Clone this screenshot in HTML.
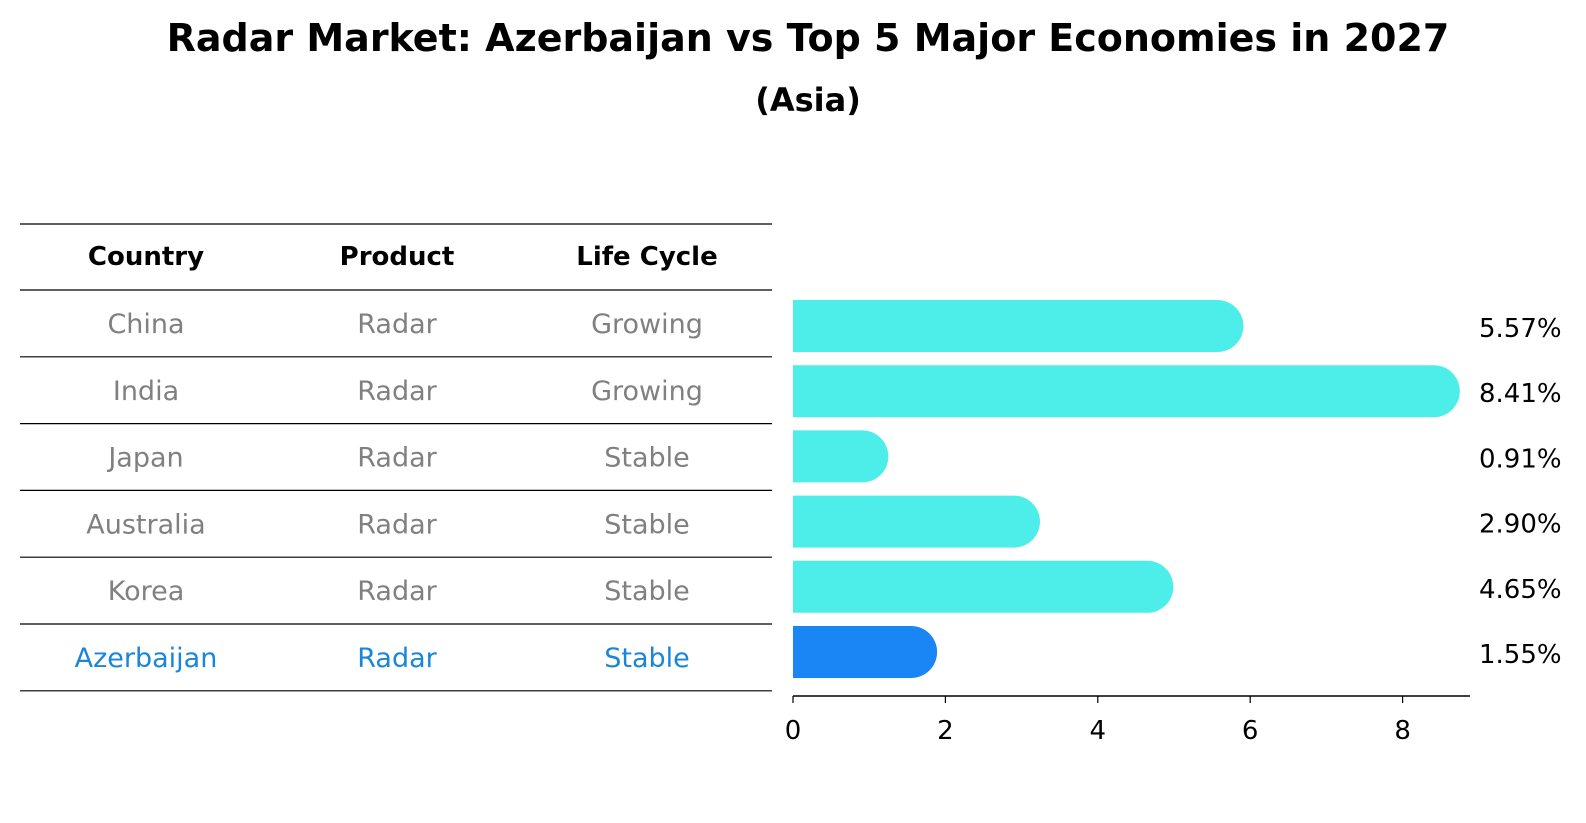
<!DOCTYPE html>
<html><head><meta charset="utf-8"><style>
body{margin:0;background:#fff;}
svg{display:block;font-family:"DejaVu Sans","Liberation Sans",sans-serif;}
</style></head><body>
<svg width="1586" height="823" viewBox="0 0 1586 823">
<text x="808" y="51" text-anchor="middle" font-size="38" font-weight="bold">Radar Market: Azerbaijan vs Top 5 Major Economies in 2027</text>
<text x="808" y="111" text-anchor="middle" font-size="32" font-weight="bold">(Asia)</text>
<g id="table"></g>
<g id="bars"></g>
<g id="axis"></g>
</svg>
<script>
const countries=["China","India","Japan","Australia","Korea","Azerbaijan"];
const products=["Radar","Radar","Radar","Radar","Radar","Radar"];
const lifeCycles=["Growing","Growing","Stable","Stable","Stable","Stable"];
const values=[5.57,8.41,0.91,2.90,4.65,1.55];
const valueLabels=["5.57%","8.41%","0.91%","2.90%","4.65%","1.55%"];
const ticks=[0,2,4,6,8];
const NS="http://www.w3.org/2000/svg";
function mk(tag,attrs,parent,text){const e=document.createElementNS(NS,tag);for(const k in attrs)e.setAttribute(k,attrs[k]);if(text!==undefined)e.textContent=text;parent.appendChild(e);return e;}
const x0=793,ppu=76.2;
const xs=v=>x0+v*ppu;
const rowTop=290;
const yc=i=>326+i*65.2;
const table=document.getElementById('table');
const cols=[146,397,647];
const headers=["Country","Product","Life Cycle"];
const lineYs=[224];
for(let i=0;i<=countries.length;i++)lineYs.push(rowTop+i*66.8);
lineYs.forEach((y,i)=>{const l=mk('line',{x1:20,x2:772,y1:y,y2:y,stroke:'#000','stroke-width':1.2},table);

});
headers.forEach((h,j)=>{const t=mk('text',{x:cols[j],y:265,'text-anchor':'middle','font-size':26,'font-weight':'bold'},table,h);

});
countries.forEach((c,i)=>{
 const y=rowTop+i*66.8+43;
 const col=i===countries.length-1?'#1a86d8':'#808080';
 [c,products[i],lifeCycles[i]].forEach((v,j)=>{const t=mk('text',{x:cols[j],y:y,'text-anchor':'middle','font-size':27,fill:col},table,v);
 
 });
});
const bars=document.getElementById('bars');
const bh=52,r=26;
values.forEach((v,i)=>{
 const yt=yc(i)-bh/2;const xe=xs(v);
 const col=i===values.length-1?'#1a86f5':'#4deee9';
 const d=`M${x0},${yt} H${xe} A${r},${r} 0 0 1 ${xe},${yt+bh} H${x0} Z`;
 const p=mk('path',{d:d,fill:col},bars);
 
 
 const t=mk('text',{x:1479,y:yc(i)+11,'font-size':26},bars,valueLabels[i]);
 
 
});
const axis=document.getElementById('axis');
const al=mk('line',{x1:x0,x2:1470,y1:696,y2:696,stroke:'#000','stroke-width':1.5},axis);


ticks.forEach(v=>{const l=mk('line',{x1:xs(v),x2:xs(v),y1:696,y2:703,stroke:'#000','stroke-width':1.2},axis);


const t=mk('text',{x:xs(v),y:739,'text-anchor':'middle','font-size':26},axis,String(v));

});
</script>
</body></html>
